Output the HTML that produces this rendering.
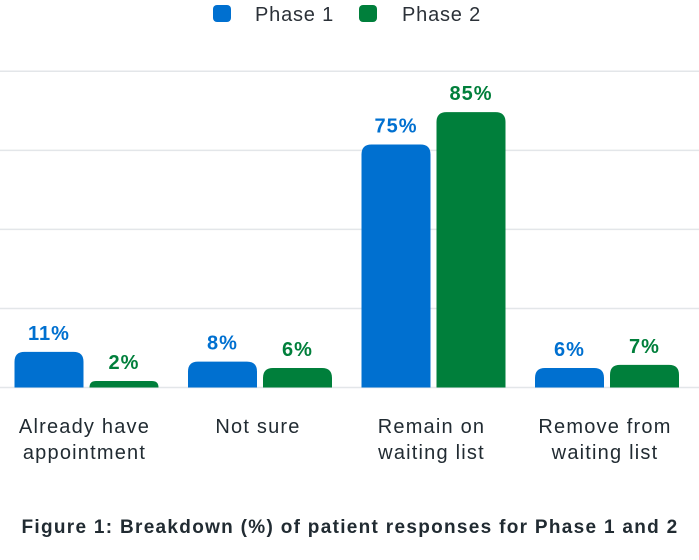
<!DOCTYPE html>
<html><head><meta charset="utf-8"><style>
body{margin:0;background:#fff;font-family:"Liberation Sans",sans-serif;}
svg text{font-family:"Liberation Sans",sans-serif;}
</style></head><body>
<svg id="chart" width="699" height="555" xmlns="http://www.w3.org/2000/svg">
<g>
<rect x="213" y="5" width="18" height="17" rx="4" fill="#0070d0"/>
<text x="255" y="21" font-size="20" letter-spacing="0.8" fill="#2b3138">Phase 1</text>
<rect x="359" y="5" width="18" height="17" rx="4" fill="#007f3b"/>
<text x="402" y="21" font-size="20" letter-spacing="0.8" fill="#2b3138">Phase 2</text>
</g>
<g id="grid"></g>
<g id="bars"></g>
<g id="labels"></g>
<text x="350" y="533" text-anchor="middle" font-size="19" letter-spacing="1.3" font-weight="bold" fill="#212b32">Figure 1: Breakdown (%) of patient responses for Phase 1 and 2</text>
</svg>
<script>
const categories = [["Already have","appointment"],["Not sure"],["Remain on","waiting list"],["Remove from","waiting list"]];
const phase1 = [11, 8, 75, 6];
const phase2 = [2, 6, 85, 7];
const gridTicks = [0, 24.4, 48.8, 73.2, 97.6];

const NS = "http://www.w3.org/2000/svg";
const base = 387.5, pxPer = 3.24;
const y = v => base - v * pxPer;
const step = 173.5, x0 = 86.5, bw = 69, gap = 6;
const xc = i => x0 + i * step;

function mk(tag, attrs, parent) {
  const e = document.createElementNS(NS, tag);
  for (const k in attrs) e.setAttribute(k, attrs[k]);
  parent.appendChild(e);
  return e;
}
const grid = document.getElementById('grid');
gridTicks.forEach((t, i) => {
  const l = mk('line', {x1: 0, x2: 699, y1: y(t), y2: y(t), stroke: '#e3e6e9', 'stroke-width': 1.5}, grid);
  
  
});
function barPath(x, top, w, h, r) {
  r = Math.min(r, h, w / 2);
  return `M${x},${top + h} V${top + r} Q${x},${top} ${x + r},${top} H${x + w - r} Q${x + w},${top} ${x + w},${top + r} V${top + h} Z`;
}
const bars = document.getElementById('bars');
const labels = document.getElementById('labels');
[[phase1, '#0070d0', -1, 'phase-1'], [phase2, '#007f3b', 1, 'phase-2']].forEach(([vals, col, side, nm]) => {
  vals.forEach((v, i) => {
    const bx = side < 0 ? xc(i) - gap / 2 - bw : xc(i) + gap / 2;
    const p = mk('path', {d: barPath(bx, y(v), bw, v * pxPer, 10), fill: col}, bars);
    
    
    const t = mk('text', {x: bx + bw / 2, y: y(v) - 12, 'text-anchor': 'middle', 'font-size': 20, 'letter-spacing': 1, 'font-weight': 'bold', fill: col}, labels);
    t.textContent = v + '%';
    
    
  });
});
categories.forEach((lines, i) => {
  const t = mk('text', {x: xc(i) - 2, y: 433, 'text-anchor': 'middle', 'font-size': 20, 'letter-spacing': 1.2, fill: '#212b32'}, labels);
  
  
  lines.forEach((s, j) => {
    const ts = mk('tspan', {x: xc(i) - 2, dy: j ? 26 : 0}, t);
    ts.textContent = s;
  });
});
</script>
</body></html>
